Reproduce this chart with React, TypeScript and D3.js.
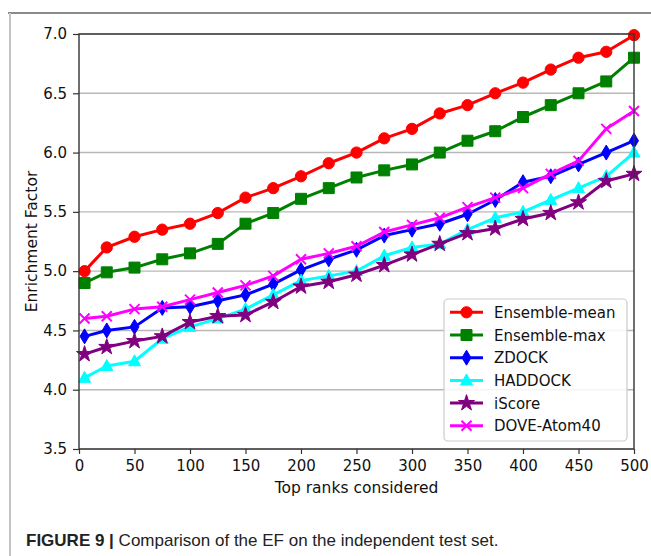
import React, { useRef, useEffect } from 'react';
import * as d3 from 'd3';

const ranks = [5, 25, 50, 75, 100, 125, 150, 175, 200, 225, 250, 275, 300, 325, 350, 375, 400, 425, 450, 475, 500];

const ensembleMean = [5.0, 5.2, 5.29, 5.35, 5.4, 5.49, 5.62, 5.7, 5.8, 5.91, 6.0, 6.12, 6.2, 6.33, 6.4, 6.5, 6.59, 6.7, 6.8, 6.85, 6.99];
const ensembleMax = [4.9, 4.99, 5.03, 5.1, 5.15, 5.23, 5.4, 5.49, 5.61, 5.7, 5.79, 5.85, 5.9, 6.0, 6.1, 6.18, 6.3, 6.4, 6.5, 6.6, 6.8];
const zdock = [4.45, 4.5, 4.53, 4.69, 4.7, 4.75, 4.8, 4.89, 5.01, 5.1, 5.18, 5.3, 5.35, 5.4, 5.48, 5.6, 5.75, 5.8, 5.9, 6.0, 6.1];
const haddock = [4.1, 4.2, 4.24, 4.43, 4.53, 4.6, 4.68, 4.8, 4.92, 4.96, 5.0, 5.13, 5.2, 5.23, 5.35, 5.45, 5.5, 5.6, 5.7, 5.8, 6.0];
const iscore = [4.3, 4.36, 4.41, 4.45, 4.57, 4.62, 4.63, 4.74, 4.87, 4.91, 4.97, 5.05, 5.14, 5.23, 5.32, 5.36, 5.44, 5.49, 5.58, 5.76, 5.82];
const dove = [4.6, 4.62, 4.68, 4.7, 4.76, 4.82, 4.88, 4.96, 5.1, 5.15, 5.21, 5.33, 5.39, 5.45, 5.54, 5.62, 5.7, 5.82, 5.93, 6.2, 6.35];

const seriesNames = ['Ensemble-mean', 'Ensemble-max', 'ZDOCK', 'HADDOCK', 'iScore', 'DOVE-Atom40'];
const seriesColors = ['#ff0000', '#008000', '#0000ff', '#00ffff', '#800080', '#ff00ff'];
const seriesMarkers = ['circle', 'square', 'diamond', 'triangle', 'star', 'x'];
const seriesValues = [ensembleMean, ensembleMax, zdock, haddock, iscore, dove];

const xTicks = [0, 50, 100, 150, 200, 250, 300, 350, 400, 450, 500];
const yTicks = [3.5, 4.0, 4.5, 5.0, 5.5, 6.0, 6.5, 7.0];

const markerPath = (kind: string) => {
  switch (kind) {
    case 'circle': return d3.symbol(d3.symbolCircle, 100)();
    case 'square': return 'M-5.5,-5.5H5.5V5.5H-5.5Z';
    case 'diamond': return 'M0,-7.5L4.5,0L0,7.5L-4.5,0Z';
    case 'triangle': return 'M0,-6.5L6,4.5H-6Z';
    case 'star': return d3.symbol(d3.symbolStar, 80)();
    default: return 'M-5,-5L5,5M-5,5L5,-5';
  }
};

const App = () => {
  const chartRef = useRef(null);

  useEffect(() => {
    const W = 651, H = 556;
    const left = 79, right = 634, top = 34, bottom = 449;

    d3.select(chartRef.current).select('svg').remove();

    const svg = d3.select(chartRef.current)
      .append('svg')
      .attr('width', W)
      .attr('height', H)
      .style('display', 'block')
      .style('background', '#fff');

    // page frame
    svg.append('line').attr('x1', 8).attr('x2', W).attr('y1', 13).attr('y2', 13)
      .attr('stroke', '#8a8a8a').attr('stroke-width', 2);
    svg.append('line').attr('x1', 10).attr('x2', 10).attr('y1', 13).attr('y2', H)
      .attr('stroke', '#c4c4c4').attr('stroke-width', 2);

    const x = d3.scaleLinear().domain([0, 500]).range([left, right]);
    const y = d3.scaleLinear().domain([3.5, 7.0]).range([bottom, top]);

    const font = 'DejaVu Sans, sans-serif';

    // grid
    svg.append('g').selectAll('line').data(yTicks).enter().append('line')
      .attr('x1', left).attr('x2', right)
      .attr('y1', d => y(d)).attr('y2', d => y(d))
      .attr('stroke', '#b8b8b8').attr('stroke-width', 1.4);

    // y axis
    const yAxis = svg.append('g')
      .attr('transform', `translate(${left},0)`)
      .call(d3.axisLeft(y).tickValues(yTicks).tickFormat(d3.format('.1f')).tickSize(6).tickPadding(6));
    yAxis.select('.domain').remove();
    yAxis.selectAll('line').attr('stroke', '#333').attr('stroke-width', 1.2);
    yAxis.selectAll('text').attr('font-family', font).attr('font-size', 15).attr('fill', '#111');

    // x axis
    const xAxis = svg.append('g')
      .attr('transform', `translate(0,${bottom})`)
      .call(d3.axisBottom(x).tickValues(xTicks).tickSize(5).tickPadding(6));
    xAxis.select('.domain').remove();
    xAxis.selectAll('line').attr('stroke', '#333').attr('stroke-width', 1.2);
    xAxis.selectAll('text').attr('font-family', font).attr('font-size', 15).attr('fill', '#111');

    // series
    const line = d3.line<number>().x((_, i) => x(ranks[i])).y(d => y(d));
    seriesValues.forEach((vals, si) => {
      const g = svg.append('g');
      const color = seriesColors[si];
      g.append('path').datum(vals).attr('d', line)
        .attr('fill', 'none').attr('stroke', color).attr('stroke-width', 3)
        .attr('stroke-linejoin', 'round');
      const isX = seriesMarkers[si] === 'x';
      g.selectAll('path.m').data(vals).enter().append('path')
        .attr('class', 'm')
        .attr('d', markerPath(seriesMarkers[si]))
        .attr('transform', (d, i) => `translate(${x(ranks[i])},${y(d)})`)
        .attr('fill', isX ? 'none' : color)
        .attr('stroke', color)
        .attr('stroke-width', isX ? 2 : 1);
    });

    // spines
    svg.append('rect').attr('x', left).attr('y', top)
      .attr('width', right - left).attr('height', bottom - top)
      .attr('fill', 'none').attr('stroke', '#333').attr('stroke-width', 1.4);

    // legend
    const lg = svg.append('g');
    lg.append('rect').attr('x', 444).attr('y', 299).attr('width', 183).attr('height', 142)
      .attr('rx', 4).attr('fill', 'rgba(255,255,255,0.85)').attr('stroke', '#cccccc').attr('stroke-width', 1.2);
    seriesNames.forEach((name, i) => {
      const cy = 312.3 + i * 22.7;
      const color = seriesColors[i];
      const isX = seriesMarkers[i] === 'x';
      lg.append('line').attr('x1', 450).attr('x2', 483).attr('y1', cy).attr('y2', cy)
        .attr('stroke', color).attr('stroke-width', 3);
      lg.append('path').attr('d', markerPath(seriesMarkers[i]))
        .attr('transform', `translate(466.5,${cy})`)
        .attr('fill', isX ? 'none' : color).attr('stroke', color).attr('stroke-width', isX ? 2 : 1);
      lg.append('text').attr('x', 494).attr('y', cy + 5.5).text(name)
        .attr('font-family', font).attr('font-size', 15).attr('fill', '#111');
    });

    // axis labels
    svg.append('text').attr('x', (left + right) / 2).attr('y', 493)
      .attr('text-anchor', 'middle').attr('font-family', font).attr('font-size', 15.5).attr('fill', '#111')
      .text('Top ranks considered');
    svg.append('text').attr('transform', `translate(37,${(top + bottom) / 2}) rotate(-90)`)
      .attr('text-anchor', 'middle').attr('font-family', font).attr('font-size', 15.5).attr('fill', '#111')
      .text('Enrichment Factor');

    // caption
    const cap = svg.append('text').attr('x', 26).attr('y', 546)
      .attr('font-family', 'Liberation Sans, Arial, sans-serif').attr('font-size', 17).attr('fill', '#222');
    cap.append('tspan').attr('font-weight', 'bold').text('FIGURE 9 | ');
    cap.append('tspan').text('Comparison of the EF on the independent test set.');
  }, []);

  return (
    <div ref={chartRef} style={{ position: 'absolute', left: 0, top: 0 }} />
  );
};

export default App;
